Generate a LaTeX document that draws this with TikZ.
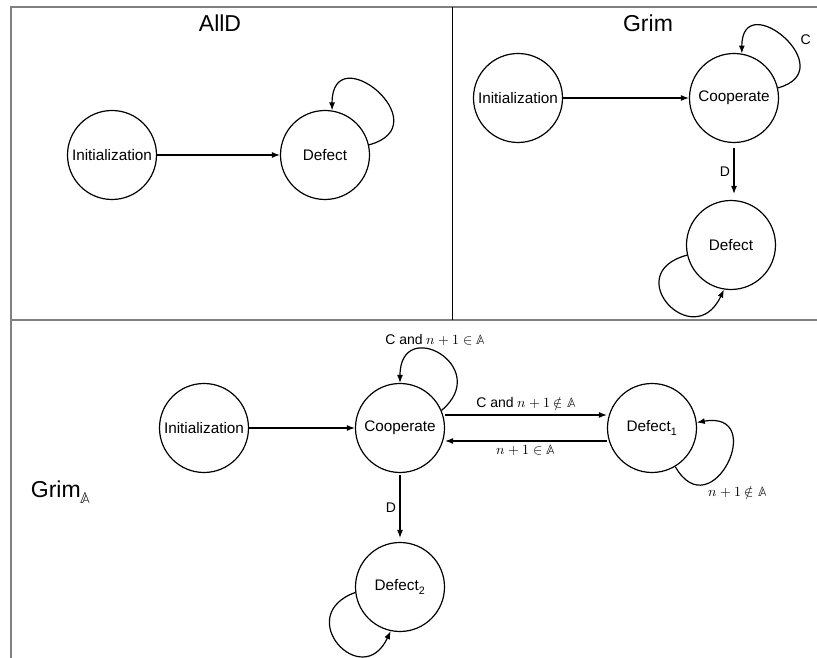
\documentclass[tikz,border=0pt]{standalone}
\usepackage{fontspec}
\usepackage{unicode-math}
\setmainfont{Liberation Sans}
\usetikzlibrary{arrows.meta}

\tikzset{
  st/.style={draw, circle, line width=1.2pt, minimum size=89pt, inner sep=0pt, font=\fontsize{15.3}{17}\selectfont},
  lbl/.style={font=\fontsize{14}{16}\selectfont},
  ttl/.style={font=\fontsize{23}{26}\selectfont},
  panel/.style={draw=gray, line width=1.5pt},
}

\begin{document}
\begin{tikzpicture}[x=1pt, y=1pt, line width=1.2pt, >={Latex[length=8pt,width=6pt]}]
  \useasboundingbox (0,0) rectangle (817,658);
  % panels
  \draw[panel] (11,0) -- (11,651) -- (817,651);
  \draw[panel] (11,338) -- (817,338);
  \draw[line width=0.8pt] (452,651) -- (452,338);

  % AllD
  \node[ttl] (talld) at (220,635) {AllD};
  \node[st] (ainit) at (112,503) {Initialization};
  \node[st] (adef) at (325,503) {Defect};
  \draw[->] (ainit) -- (adef);
  \draw[->] (adef.13) to[out=15,in=90,looseness=3.8] (adef.81);

  % Grim
  \node[ttl] (tgrim) at (648,635) {Grim};
  \node[st] (ginit) at (518,560) {Initialization};
  \node[st] (gcoop) at (734,560) {Cooperate};
  \node[st] (gdef) at (731,413) {Defect};
  \draw[->] (ginit) -- (gcoop);
  \draw[->] (gcoop.13) to[out=15,in=90,looseness=3.5] node[lbl, pos=0.4, anchor=south west, xshift=3pt] {C} (gcoop.80);
  \draw[->, shorten <=5pt, shorten >=6pt] (gcoop.south) -- node[lbl, left] {D} (gcoop.south |- gdef.north);
  \draw[->] (gdef.193) to[out=195,in=245,looseness=3.6] (gdef.261);

  % Grim_A
  \node[ttl, anchor=west] (tgrima) at (27,166) {Grim$_{\mathbb{A}}$};
  \node[st] (binit) at (204,230) {Initialization};
  \node[st] (bcoop) at (400,230) {Cooperate};
  \node[st] (bdone) at (652,230) {Defect\textsubscript{1}};
  \node[st] (bdtwo) at (400,71) {Defect\textsubscript{2}};
  \draw[->] (binit) -- (bcoop);
  \draw[->] (bcoop.23) to[out=40,in=90,looseness=3.5] node[lbl, pos=0.65, above, xshift=11pt] {C and $n+1\in\mathbb{A}$} (bcoop.90);
  \draw[->] ([yshift=13pt]bcoop.east) -- node[lbl, above] {C and $n+1\notin\mathbb{A}$} ([yshift=13pt]bdone.west);
  \draw[->] ([yshift=-13pt]bdone.west) -- node[lbl, below] {$n+1\in\mathbb{A}$} ([yshift=-13pt]bcoop.east);
  \draw[->] (bdone.-59) to[out=-60,in=10,looseness=3.8] node[lbl, pos=0.3, below right, xshift=-5pt] {$n+1\notin\mathbb{A}$} (bdone.7);
  \draw[->, shorten <=2pt, shorten >=4pt] (bcoop) -- node[lbl, left] {D} (bdtwo);
  \draw[->] (bdtwo.187) to[out=200,in=245,looseness=3.3] (bdtwo.258);
\end{tikzpicture}
\end{document}
